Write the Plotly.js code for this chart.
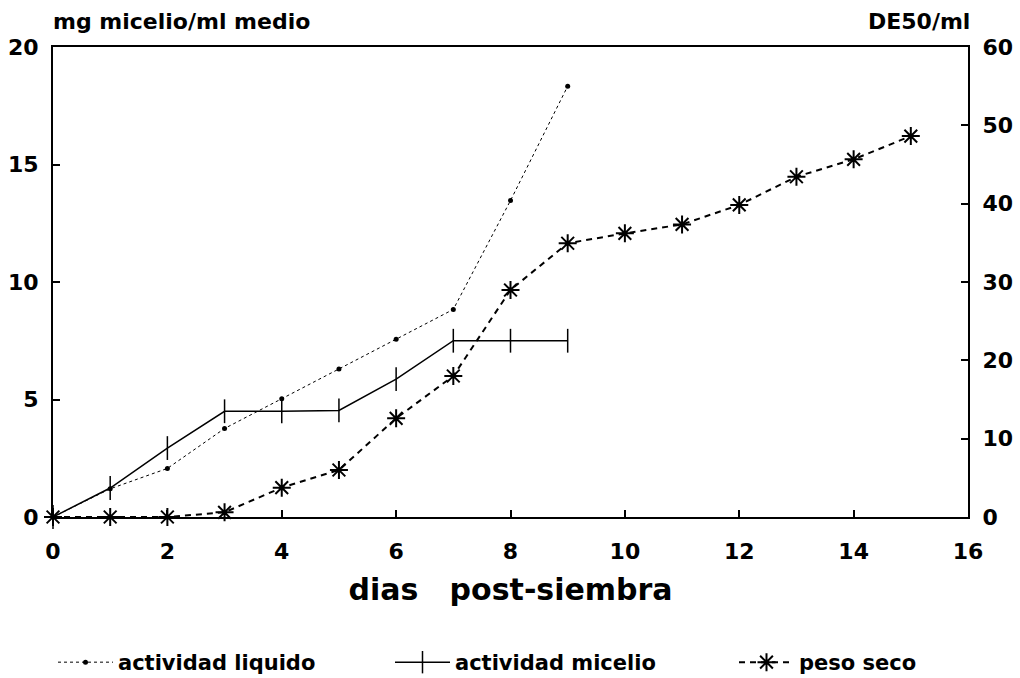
<!DOCTYPE html>
<html>
<head>
<meta charset="utf-8">
<script src="https://cdn.plot.ly/plotly-3.0.1.min.js"></script>
<style>html,body{margin:0;padding:0;background:#fff;}#chart{width:1020px;height:678px;}</style>
</head>
<body>
<div id="chart"></div>
<script>
// days post-sowing
const dias = [0, 1, 2, 3, 4, 5, 6, 7, 8, 9, 10, 11, 12, 13, 14, 15];
// DE50/ml (right axis)
const diasActividad = [0, 1, 2, 3, 4, 5, 6, 7, 8, 9];
const actividadLiquido = [0, 3.6, 6.2, 11.3, 15.1, 18.9, 22.7, 26.5, 40.4, 55.0];
const actividadMicelio = [0, 3.7, 8.8, 13.5, 13.5, 13.6, 17.6, 22.5, 22.5, 22.5];
// mg micelio/ml medio (left axis)
const pesoSeco = [0, 0, 0, 0.2, 1.25, 2.0, 4.2, 6.0, 9.66, 11.65, 12.07, 12.45, 13.28, 14.48, 15.22, 16.21];

const FONT = "DejaVu Sans, Verdana, sans-serif";

const traces = [
  {
    x: diasActividad, y: actividadLiquido, yaxis: 'y2', legend: 'legend',
    name: 'actividad liquido', mode: 'lines+markers',
    line: {color: '#000', width: 1, dash: 'dot'},
    marker: {symbol: 'circle', size: 5, color: '#000'},
    cliponaxis: false
  },
  {
    x: diasActividad, y: actividadMicelio, yaxis: 'y2', legend: 'legend2',
    name: 'actividad micelio', mode: 'lines+markers',
    line: {color: '#000', width: 1.5},
    marker: {symbol: 'line-ns-open', size: 17, line: {color: '#000', width: 1.5}},
    cliponaxis: false
  },
  {
    x: dias, y: pesoSeco, yaxis: 'y', legend: 'legend3',
    name: 'peso seco', mode: 'lines+markers',
    line: {color: '#000', width: 2, dash: '6px,5px'},
    marker: {symbol: 'asterisk-open', size: 15, line: {color: '#000', width: 2}},
    cliponaxis: false
  }
];

const tickFont = {family: FONT, size: 22, color: '#000', weight: 'bold'};
const legendFont = {family: FONT, size: 21, color: '#000', weight: 'bold'};
function mkLegend(px) {
  return {
    orientation: 'h', xref: 'container', x: px / 1020, xanchor: 'left',
    y: -0.266, yanchor: 'top',
    font: legendFont, itemwidth: 55, bgcolor: 'rgba(0,0,0,0)'
  };
}

const layout = {
  width: 1020, height: 678,
  paper_bgcolor: '#fff', plot_bgcolor: '#fff',
  margin: {l: 53, r: 52, t: 47, b: 161, autoexpand: false},
  font: {family: FONT, color: '#000'},
  showlegend: true,
  legend: mkLegend(53),
  legend2: mkLegend(390),
  legend3: mkLegend(734),
  xaxis: {
    range: [0, 16], tickvals: [0, 2, 4, 6, 8, 10, 12, 14, 16],
    showgrid: false, zeroline: false,
    showline: true, linecolor: '#000', linewidth: 2, mirror: true,
    ticks: 'inside', ticklen: 7, tickwidth: 2, tickcolor: '#000',
    ticklabelstandoff: 14,
    tickfont: tickFont,
    title: {text: 'dias\u00a0\u00a0 post-siembra', standoff: 16,
            font: {family: FONT, size: 30, color: '#000', weight: 'bold'}}
  },
  yaxis: {
    range: [0, 20], tickvals: [0, 5, 10, 15, 20],
    showgrid: false, zeroline: false,
    showline: true, linecolor: '#000', linewidth: 2,
    ticks: 'inside', ticklen: 7, tickwidth: 2, tickcolor: '#000',
    ticklabelstandoff: 8,
    tickfont: tickFont
  },
  yaxis2: {
    overlaying: 'y', side: 'right',
    range: [0, 60], tickvals: [0, 10, 20, 30, 40, 50, 60],
    showgrid: false, zeroline: false,
    showline: true, linecolor: '#000', linewidth: 2,
    ticks: 'inside', ticklen: 7, tickwidth: 2, tickcolor: '#000',
    ticklabelstandoff: 8,
    tickfont: tickFont
  },
  annotations: [
    {text: 'mg micelio/ml medio', xref: 'paper', yref: 'paper', x: 0, y: 1,
     xanchor: 'left', yanchor: 'bottom', xshift: -2, yshift: 11, showarrow: false,
     font: {family: FONT, size: 22, color: '#000', weight: 'bold'}},
    {text: 'DE50/ml', xref: 'paper', yref: 'paper', x: 1, y: 1,
     xanchor: 'right', yanchor: 'bottom', xshift: 4, yshift: 11, showarrow: false,
     font: {family: FONT, size: 22, color: '#000', weight: 'bold'}}
  ]
};

Plotly.newPlot('chart', traces, layout, {displayModeBar: false, staticPlot: true});
</script>
</body>
</html>
